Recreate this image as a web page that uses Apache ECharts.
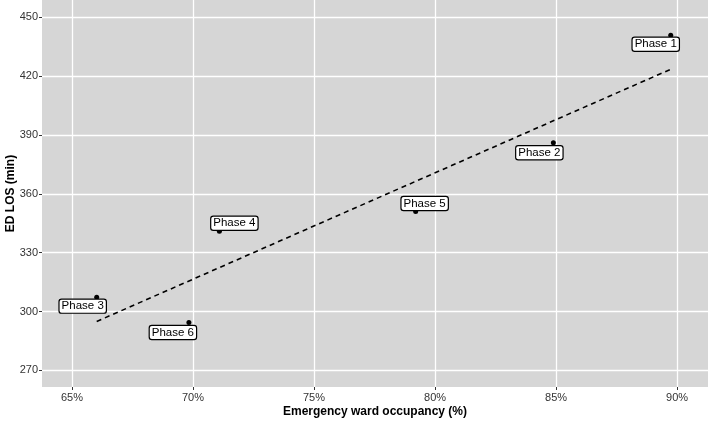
<!DOCTYPE html>
<html>
<head>
<meta charset="utf-8">
<script src="https://cdn.jsdelivr.net/npm/echarts@6/dist/echarts.min.js"></script>
<style>
  html, body { margin: 0; padding: 0; background: #fff; }
  #chart { width: 708px; height: 423px; }
</style>
</head>
<body>
<div id="chart"></div>
<script>
// phases, occupancy (%) and ED length of stay (min)
const phases = ['Phase 1', 'Phase 2', 'Phase 3', 'Phase 4', 'Phase 5', 'Phase 6']
const occupancy = [89.74, 84.89, 66.02, 71.09, 79.2, 69.83]
const losMin = [440.8, 386, 307.3, 340.9, 351, 294.4]

// fitted line
const trendX = [66.02, 89.74]
const trendY = [294.9, 423.5]

const xTicks = [65, 70, 75, 80, 85, 90]
const yTicks = [270, 300, 330, 360, 390, 420, 450]

// where each label box sits relative to its point (px)
const labelShift = {
  'Phase 1': [-15, 9],
  'Phase 2': [-14, 10],
  'Phase 3': [-14, 9],
  'Phase 4': [15, -8],
  'Phase 5': [9, -8],
  'Phase 6': [-16, 10],
}

const points = phases.map((p, i) => ({
  name: p,
  value: [occupancy[i], losMin[i]],
  label: { offset: labelShift[p] },
}))

const option = {
  animation: false,
  grid: {
    left: 42, right: 0, top: 0, bottom: 36,
    outerBoundsMode: 'none', containLabel: false,
    show: true, backgroundColor: '#d6d6d6', borderWidth: 0,
  },
  xAxis: {
    type: 'value',
    min: 63.76,
    max: 91.28,
    name: 'Emergency ward occupancy (%)',
    nameLocation: 'middle',
    nameGap: 19,
    nameMoveOverlap: false,
    nameTextStyle: { fontFamily: 'Liberation Sans', fontWeight: 'bold', fontSize: 12, color: '#000' },
    axisLine: { show: false },
    axisTick: { show: true, length: 3, customValues: xTicks, lineStyle: { color: '#333' } },
    axisLabel: { customValues: xTicks, formatter: v => v + '%', color: '#333', fontFamily: 'Liberation Sans', fontSize: 11, margin: 5 },
    splitLine: { show: true, lineStyle: { color: '#fff', width: 1.3 } },
  },
  yAxis: {
    type: 'value',
    min: 261.5,
    max: 458.8,
    name: 'ED LOS (min)',
    nameLocation: 'middle',
    nameGap: 25,
    nameMoveOverlap: false,
    nameTextStyle: { fontFamily: 'Liberation Sans', fontWeight: 'bold', fontSize: 12, color: '#000' },
    axisLine: { show: false },
    axisTick: { show: true, length: 3, customValues: yTicks, lineStyle: { color: '#333' } },
    axisLabel: { customValues: yTicks, color: '#333', fontFamily: 'Liberation Sans', fontSize: 11, margin: 4 },
    splitLine: { show: true, lineStyle: { color: '#fff', width: 1.3 } },
  },
  series: [
    {
      type: 'line',
      data: trendX.map((x, i) => [x, trendY[i]]),
      symbol: 'none',
      lineStyle: { color: '#000', width: 1.6, type: [5, 4] },
      z: 2,
    },
    {
      type: 'scatter',
      data: points,
      symbolSize: 5,
      itemStyle: { color: '#000', opacity: 1 },
      z: 3,
      label: {
        show: true,
        position: 'inside',
        formatter: '{b}',
        fontFamily: 'Liberation Sans',
        fontSize: 11.5,
        color: '#000',
        backgroundColor: '#fff',
        borderColor: '#000',
        borderWidth: 1.2,
        borderRadius: 2,
        padding: [1, 2, 0, 2],
      },
    },
  ],
}

const chart = echarts.init(document.getElementById('chart'))
chart.setOption(option)
</script>
</body>
</html>
